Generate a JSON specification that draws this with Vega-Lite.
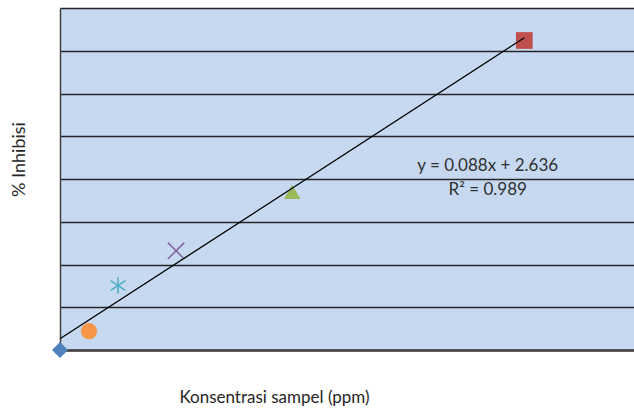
{
  "$schema": "https://vega.github.io/schema/vega-lite/v6.json",
  "width": 574,
  "height": 342,
  "autosize": {"type": "none"},
  "padding": {"left": 60, "top": 8, "right": 0, "bottom": 64},
  "background": "white",
  "config": {
    "view": {"fill": "#c6d9f1", "stroke": null},
    "font": "Lato"
  },
  "datasets": {
    "sampel": [
      {"konsentrasi": 0, "inhibisi": 0},
      {"konsentrasi": 50, "inhibisi": 4.4},
      {"konsentrasi": 100, "inhibisi": 15.1},
      {"konsentrasi": 200, "inhibisi": 23.2},
      {"konsentrasi": 400, "inhibisi": 37.0},
      {"konsentrasi": 800, "inhibisi": 72.4}
    ],
    "trendline": [
      {"konsentrasi": 0, "inhibisi": 2.636},
      {"konsentrasi": 800, "inhibisi": 73.036}
    ]
  },
  "layer": [
    {
      "data": {"name": "sampel"},
      "transform": [{"filter": {"field": "konsentrasi", "oneOf": [0, 50, 400, 800]}}],
      "mark": {"type": "point", "filled": true, "opacity": 1},
      "encoding": {
        "x": {
          "field": "konsentrasi",
          "type": "quantitative",
          "scale": {"domain": [0, 989], "nice": false, "zero": false},
          "axis": {
            "title": "Konsentrasi sampel (ppm)",
            "labels": false,
            "ticks": false,
            "grid": false,
            "domain": true,
            "domainColor": "#404040",
            "domainWidth": 2.5,
            "titleFont": "Lato",
            "titleFontSize": 17,
            "titleFontWeight": "normal",
            "titleColor": "#262626",
            "titleX": 214,
            "titleY": 52,
            "titleAlign": "center",
            "titleBaseline": "alphabetic"
          }
        },
        "y": {
          "field": "inhibisi",
          "type": "quantitative",
          "scale": {"domain": [0, 80], "nice": false},
          "axis": {
            "title": "% Inhibisi",
            "values": [0, 10, 20, 30, 40, 50, 60, 70, 80],
            "labels": false,
            "ticks": false,
            "grid": true,
            "gridColor": "#262626",
            "gridWidth": 1.6,
            "domain": true,
            "domainColor": "#404040",
            "domainWidth": 1.5,
            "titleFont": "Lato",
            "titleFontSize": 18,
            "titleFontWeight": "normal",
            "titleColor": "#262626",
            "titleAngle": -90,
            "titleX": -36,
            "titleY": 151,
            "titleAlign": "center",
            "titleBaseline": "alphabetic"
          }
        },
        "shape": {
          "field": "konsentrasi",
          "type": "nominal",
          "scale": {
            "domain": [0, 50, 100, 200, 400, 800],
            "range": ["diamond", "circle", "M0,-1L0,1M-0.9,-0.6L0.9,0.6M-0.9,0.6L0.9,-0.6", "M-1,-1L1,1M-1,1L1,-1", "triangle-up", "square"]
          },
          "legend": null
        },
        "color": {
          "field": "konsentrasi",
          "type": "nominal",
          "scale": {
            "domain": [0, 50, 100, 200, 400, 800],
            "range": ["#4f81bd", "#f79646", "#4bacc6", "#8064a2", "#9bbb59", "#c0504d"]
          },
          "legend": null
        },
        "size": {
          "field": "konsentrasi",
          "type": "nominal",
          "scale": {
            "domain": [0, 50, 100, 200, 400, 800],
            "range": [256, 280, 225, 169, 256, 289]
          },
          "legend": null
        }
      }
    },
    {
      "data": {"name": "sampel"},
      "transform": [{"filter": {"field": "konsentrasi", "oneOf": [100, 200]}}],
      "mark": {"type": "point", "filled": false, "opacity": 1, "strokeWidth": 1.5},
      "encoding": {
        "x": {"field": "konsentrasi", "type": "quantitative"},
        "y": {"field": "inhibisi", "type": "quantitative"},
        "shape": {"field": "konsentrasi", "type": "nominal", "legend": null},
        "color": {"field": "konsentrasi", "type": "nominal", "legend": null},
        "size": {"field": "konsentrasi", "type": "nominal", "legend": null}
      }
    },
    {
      "data": {"name": "trendline"},
      "mark": {"type": "line", "color": "#000000", "strokeWidth": 1.3},
      "encoding": {
        "x": {"field": "konsentrasi", "type": "quantitative"},
        "y": {"field": "inhibisi", "type": "quantitative"}
      }
    },
    {
      "data": {"values": [{}]},
      "mark": {
        "type": "text",
        "text": ["y = 0.088x + 2.636", "R² = 0.989"],
        "font": "Lato",
        "fontSize": 17,
        "lineHeight": 24,
        "align": "center",
        "baseline": "middle",
        "color": "#303030"
      },
      "encoding": {
        "x": {"datum": 737},
        "y": {"datum": 43.0}
      }
    }
  ]
}
